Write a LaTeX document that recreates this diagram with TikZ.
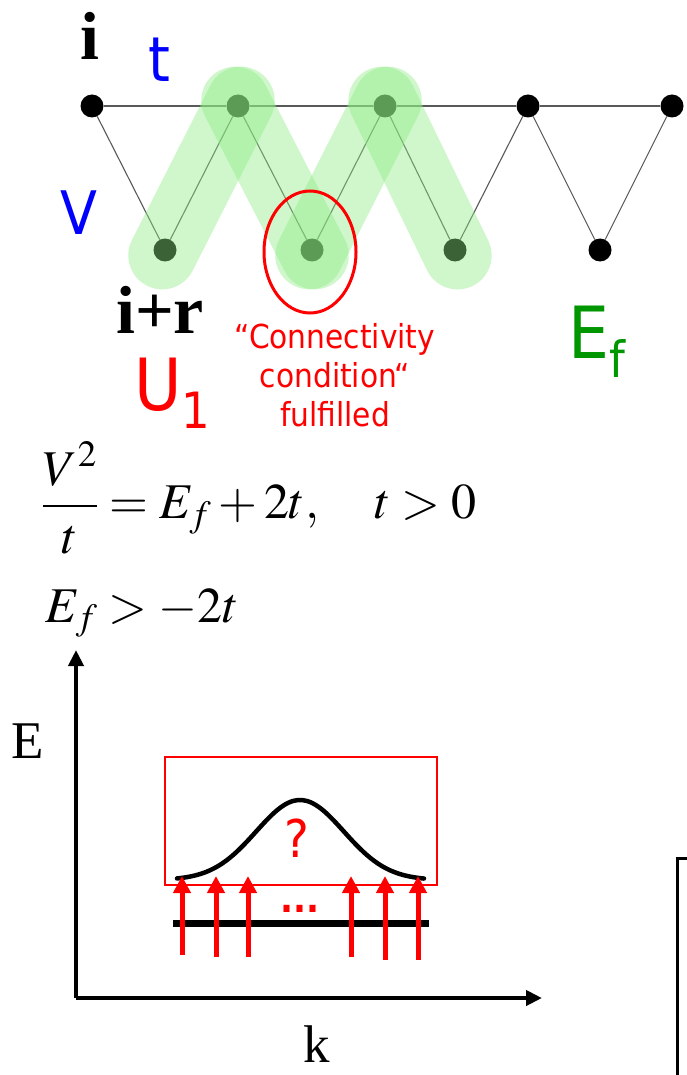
\documentclass[tikz,border=0pt]{standalone}
\usepackage{amsmath}
\usepackage{mathptmx}
\usepackage[no-math]{fontspec}
\setmainfont{Liberation Serif}
\newfontfamily\condfont{DejaVu Sans Condensed}
\usepackage{tikz}
\usetikzlibrary{arrows.meta}

\definecolor{bandgreen}{RGB}{140,235,130}
\definecolor{efgreen}{RGB}{0,150,0}

\begin{document}
\begin{tikzpicture}[x=1pt, y=-1pt,
                    site/.style={circle, fill=black, inner sep=0pt, minimum size=23pt},
                    bond/.style={draw=black!65, line width=1.1pt},
                    band/.style={draw=bandgreen, draw opacity=0.42, line width=68pt, line cap=round,
                                 shorten <=-6pt, shorten >=-6pt},
                    ring/.style={draw=red, line width=3pt},
                    axis/.style={-{Triangle[length=16pt, width=15pt]}, line width=4pt, black},
                    excite/.style={-{Triangle[length=17pt, width=17pt]}, line width=5pt, red},
                    lbl/.style={inner sep=0pt, anchor=base west}]

    \useasboundingbox (0,0) rectangle (686,1075);

    % chain sites
    \node[site] (t0) at (92,106)  {};
    \node[site] (t1) at (238,106) {};
    \node[site] (t2) at (385,106) {};
    \node[site] (t3) at (528,106) {};
    \node[site] (t4) at (672,106) {};

    \node[site] (b0) at (165,250) {};
    \node[site] (b1) at (312,250) {};
    \node[site] (b2) at (455,250) {};
    \node[site] (b3) at (600,250) {};

    \draw[bond] (t0) -- (t1) -- (t2) -- (t3) -- (t4);
    \draw[bond] (t0) -- (b0);
    \draw[bond] (b0) -- (t1);
    \draw[bond] (t1) -- (b1);
    \draw[bond] (b1) -- (t2);
    \draw[bond] (t2) -- (b2);
    \draw[bond] (b2) -- (t3);
    \draw[bond] (t3) -- (b3);
    \draw[bond] (b3) -- (t4);

    % highlighted path
    \draw[band] (b0.center) -- (t1.center);
    \draw[band] (t1.center) -- (b1.center);
    \draw[band] (b1.center) -- (t2.center);
    \draw[band] (t2.center) -- (b2.center);

    \draw[ring] (310,252) ellipse [x radius=46pt, y radius=61pt];

    % labels
    \node[lbl] (lbl_i)  at (80,60)   {\fontsize{68}{68}\selectfont\bfseries i};
    \node[lbl] (lbl_t)  at (148,82)  {\condfont\fontsize{62}{62}\selectfont\color{blue}t};
    \node[lbl] (lbl_V)  at (60,235)  {\condfont\fontsize{60}{60}\selectfont\color{blue}V};
    \node[lbl] (lbl_ir) at (116,333) {\fontsize{68}{68}\selectfont\bfseries i+r};
    \node[lbl] (lbl_U)  at (134,410) {\condfont\color{red}\fontsize{72}{72}\selectfont U\raisebox{-18pt}{\fontsize{50}{50}\selectfont 1}};
    \node[lbl] (lbl_Ef) at (568,358) {\condfont\color{efgreen}\fontsize{72}{72}\selectfont E\raisebox{-19pt}{\fontsize{50}{50}\selectfont f}};
    \node[inner sep=0pt, anchor=north, align=center, text=red,
          font={\condfont\fontsize{33}{39}\selectfont}] (lbl_cond) at (335,323)
        {“Connectivity\\condition“\\fulfilled};

    % equations
    \node[inner sep=0pt, anchor=west] (eq1) at (42,498)
        {\fontsize{50}{60}\selectfont $\dfrac{V^2}{t} = E_f + 2t,\quad t > 0$};
    \node[lbl] (eq2) at (45,622) {\fontsize{50}{60}\selectfont $E_f > -2t$};

    % band picture
    \coordinate (o)  at (76,998);
    \coordinate (ey) at (76,650);
    \coordinate (kx) at (542,998);
    \draw[axis] (o) -- (ey);
    \draw[axis] (o) -- (kx);
    \node[lbl] (lbl_E) at (11,758) {\fontsize{53}{53}\selectfont E};
    \node[inner sep=0pt, anchor=base] (lbl_k) at (317,1062) {\fontsize{53}{53}\selectfont k};

    \node[draw=red, line width=1.5pt, inner sep=0pt, minimum width=272pt, minimum height=128pt] (qbox) at (301,821) {};
    \draw[line width=4.5pt, line cap=round] plot[domain=177:424, samples=60, smooth] (\x, {880-80*exp(-((\x-300)/62)^2)});
    \node[inner sep=0pt, anchor=base, text=red] (q) at (297,857) {\condfont\fontsize{52}{52}\selectfont ?};

    \coordinate (l0) at (173,923);
    \coordinate (l1) at (429,923);
    \draw[line width=7pt] (l0) -- (l1);
    \node[inner sep=0pt, anchor=base, text=red] (dots) at (300,912) {\condfont\bfseries\fontsize{38}{38}\selectfont ...};

    \coordinate (a0) at (182,955);  \coordinate (h0) at (182,876);
    \coordinate (a1) at (216,957);  \coordinate (h1) at (216,876);
    \coordinate (a2) at (248,957);  \coordinate (h2) at (248,876);
    \coordinate (a3) at (351,957);  \coordinate (h3) at (351,876);
    \coordinate (a4) at (385,960);  \coordinate (h4) at (385,876);
    \coordinate (a5) at (418,960);  \coordinate (h5) at (418,876);
    \draw[excite] (a0) -- (h0);
    \draw[excite] (a1) -- (h1);
    \draw[excite] (a2) -- (h2);
    \draw[excite] (a3) -- (h3);
    \draw[excite] (a4) -- (h4);
    \draw[excite] (a5) -- (h5);

    % next panel
    \coordinate (p0) at (690,858);
    \coordinate (p1) at (677,858);
    \coordinate (p2) at (677,1080);
    \draw[line width=3pt] (p0) -- (p1) -- (p2);
\end{tikzpicture}
\end{document}
